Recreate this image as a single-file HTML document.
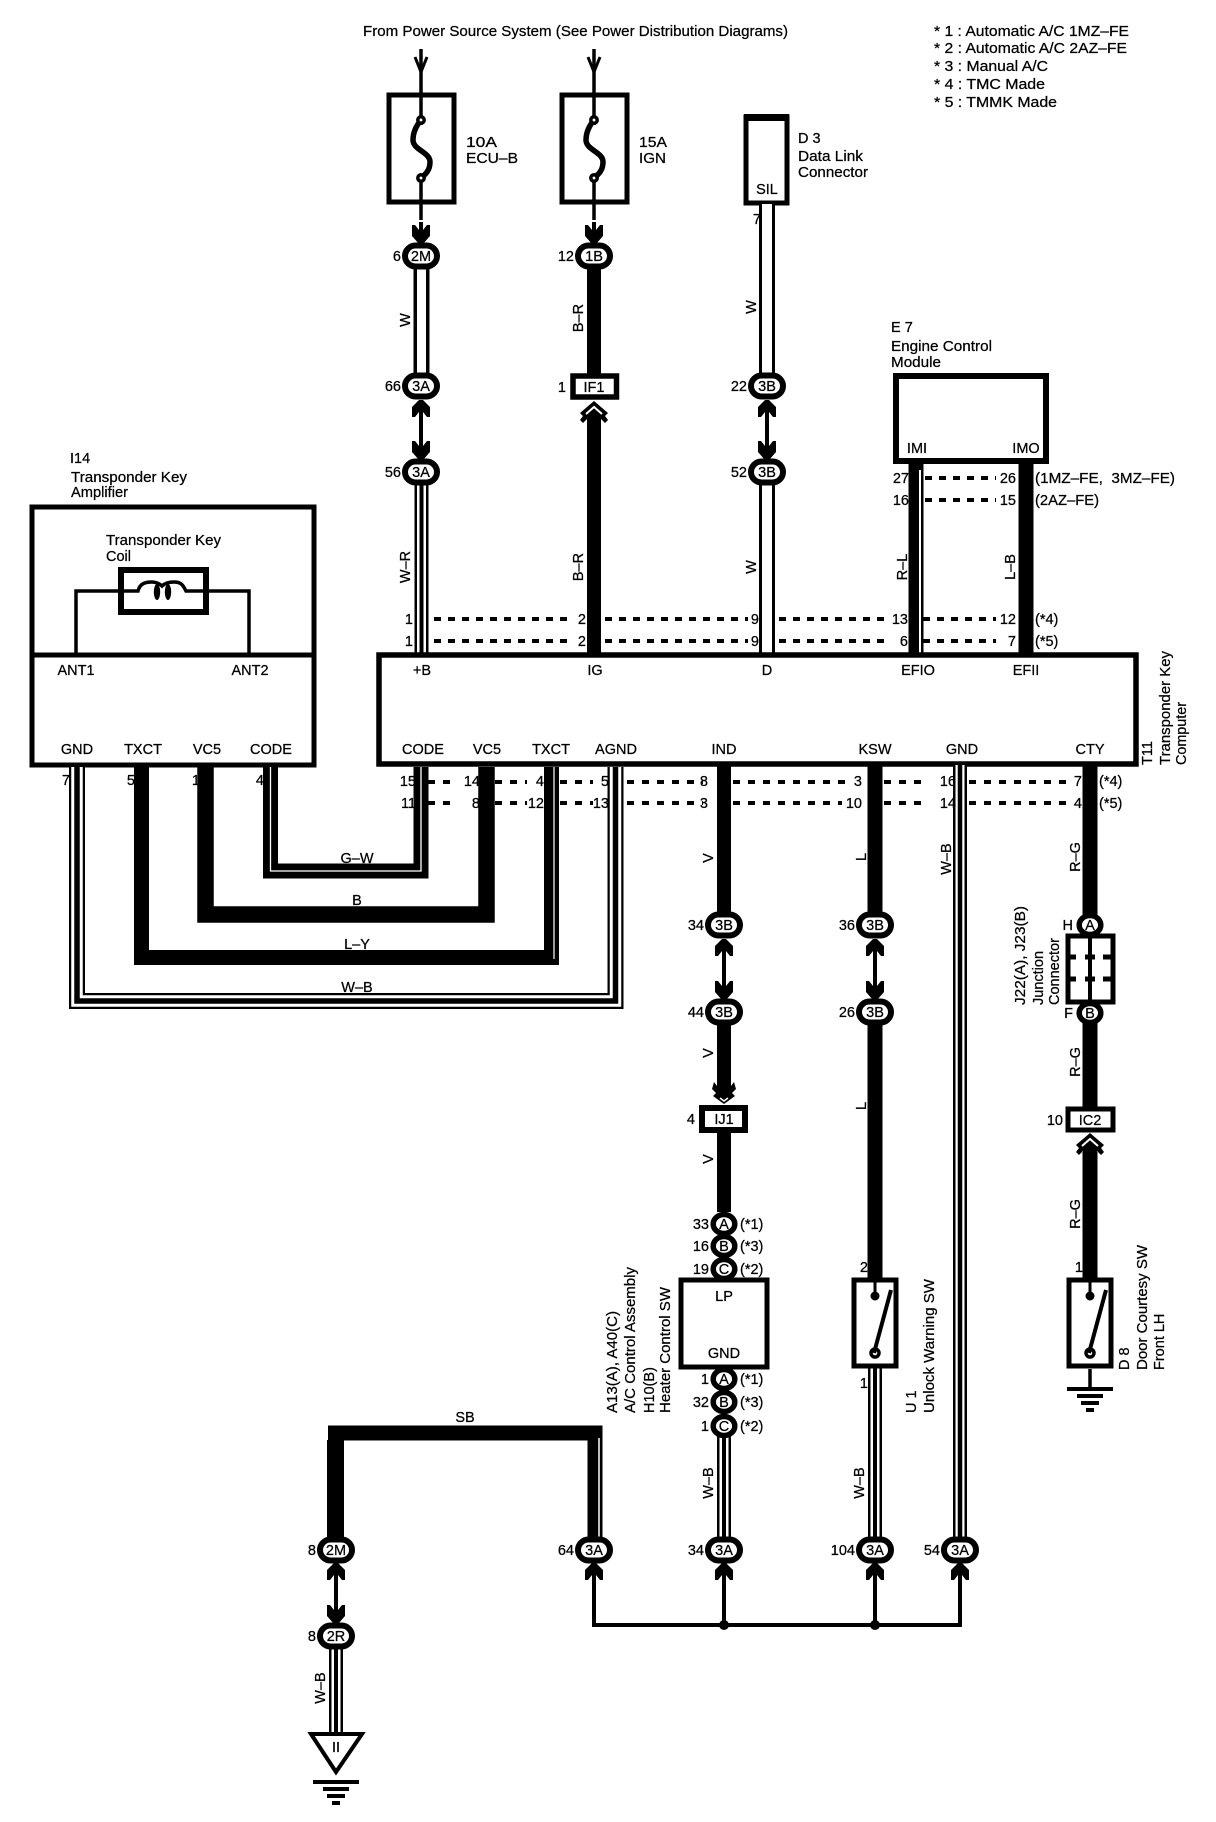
<!DOCTYPE html>
<html><head><meta charset="utf-8"><style>
html,body{margin:0;padding:0;background:#fff}
svg{display:block}
text{font:14.5px "Liberation Sans",sans-serif;fill:#000;stroke:#000;stroke-width:.25px}
.m{text-anchor:middle}.e{text-anchor:end}
.w{fill:none;stroke:#000}
</style></head><body>
<svg width="1216" height="1822" viewBox="0 0 1216 1822" xmlns="http://www.w3.org/2000/svg">
<defs>
<path id="ad" d="M-2 0H2L9-8V-19H6L2-14V-22H-2V-14L-6-19H-9V-8Z"/>
<path id="au" d="M-2 0H2L9 7V17H6L2 12V20H-2V12L-6 17H-9V7Z"/>
<rect id="ov" x="-16" y="-10.5" width="32" height="21" rx="10.5" fill="#fff" stroke="#000" stroke-width="6"/>
<ellipse id="ci" rx="10.8" ry="9.5" fill="#fff" stroke="#000" stroke-width="5.5"/>
<g id="big"><path d="M0 0L14 12 11 15 14 19 11 22 7 18V24H-7V18L-11 22-14 19-11 15-14 12Z"/><path d="M-8 13L0 6 8 13" fill="none" stroke="#fff" stroke-width="2"/></g>
<g id="gnd"><rect x="-23" y="0" width="46" height="4"/><rect x="-13" y="7" width="26" height="4"/><rect x="-9" y="14" width="18" height="4"/><rect x="-4" y="21" width="8" height="4"/></g>
<g id="fuse"><rect x="-32" y="0" width="65" height="107" fill="#fff" stroke="#000" stroke-width="5"/><path d="M0-46V30M0 82V125" stroke="#000" stroke-width="3.5"/><path d="M0 25C-5 31-8 37-8 45-8 55 9 57 9 67 9 75 5 79 0 83" fill="none" stroke="#000" stroke-width="5.5"/><circle cy="25" r="3.2" fill="#fff" stroke="#000" stroke-width="3.5"/><circle cy="83" r="3.2" fill="#fff" stroke="#000" stroke-width="3.5"/></g>
<g id="sw"><rect x="-21" y="2" width="42" height="86" fill="#fff" stroke="#000" stroke-width="5"/><path d="M0 0V18" stroke="#000" stroke-width="3"/><circle cy="18" r="4" stroke="#000"/><circle cy="75" r="4" fill="#fff" stroke="#000" stroke-width="3.5"/><path d="M16 12L-1 75" stroke="#000" stroke-width="4"/></g>
</defs>

<!-- top labels -->
<text x="363" y="36" textLength="425" lengthAdjust="spacingAndGlyphs">From Power Source System (See Power Distribution Diagrams)</text>
<text x="934" y="36" textLength="195" lengthAdjust="spacingAndGlyphs">* 1 : Automatic A/C 1MZ–FE</text>
<text x="934" y="53" textLength="193" lengthAdjust="spacingAndGlyphs">* 2 : Automatic A/C 2AZ–FE</text>
<text x="934" y="71" textLength="114" lengthAdjust="spacingAndGlyphs">* 3 : Manual A/C</text>
<text x="934" y="89" textLength="111" lengthAdjust="spacingAndGlyphs">* 4 : TMC Made</text>
<text x="934" y="107" textLength="123" lengthAdjust="spacingAndGlyphs">* 5 : TMMK Made</text>

<!-- top arrows and fuses -->
<g stroke="#000" fill="none"><path d="M421 49V80M594 49V80" stroke-width="3"/><path d="M415 57L421 72 427 57M588 57L594 72 600 57" stroke-width="3"/></g>
<use href="#fuse" x="421" y="95"/><use href="#fuse" x="594" y="95"/>
<text x="466" y="147" textLength="31" lengthAdjust="spacingAndGlyphs">10A</text><text x="466" y="163" textLength="52" lengthAdjust="spacingAndGlyphs">ECU–B</text>
<text x="639" y="147" textLength="28" lengthAdjust="spacingAndGlyphs">15A</text><text x="639" y="163" textLength="27" lengthAdjust="spacingAndGlyphs">IGN</text>
<use href="#ad" x="421" y="244"/><use href="#ad" x="594" y="244"/>

<!-- data link connector -->
<rect x="746" y="117" width="41" height="86" fill="#fff" stroke="#000" stroke-width="5"/><rect x="744" y="114" width="45" height="7"/>
<text x="767" y="194" class="m">SIL</text>
<text x="798" y="143">D 3</text><text x="798" y="161" textLength="65" lengthAdjust="spacingAndGlyphs">Data Link</text><text x="798" y="177" textLength="70" lengthAdjust="spacingAndGlyphs">Connector</text>

<!-- wire column 1 -->
<g class="w">
<path d="M421.5 268V375" stroke-width="16"/><path d="M421.5 268V375" stroke="#fff" stroke-width="9"/>
<path d="M421.5 484V655" stroke-width="14"/><path d="M421.5 484V655" stroke="#fff" stroke-width="9"/><path d="M421.5 484V655" stroke-width="4"/>
<path d="M594 268V375" stroke-width="14"/><path d="M594 420V655" stroke-width="14"/>
<path d="M767 204V375M767 484V655" stroke-width="16"/><path d="M767 204V375M767 484V655" stroke="#fff" stroke-width="10"/>
<path d="M421 402V455M767 402V455" stroke-width="4"/>
<path d="M916 462V655" stroke-width="15"/><path d="M920 462V655" stroke="#fff" stroke-width="2"/>
<path d="M1026 462V655" stroke-width="15"/>
</g>
<use href="#ov" x="421" y="256"/><use href="#ov" x="594" y="256"/>
<use href="#ov" x="421" y="386"/><use href="#ov" x="767" y="386"/>
<use href="#au" x="421" y="400"/><use href="#au" x="767" y="400"/>
<use href="#ad" x="421" y="460"/><use href="#ad" x="767" y="460"/>
<use href="#ov" x="421" y="472"/><use href="#ov" x="767" y="472"/>
<text x="421" y="261" class="m">2M</text><text x="594" y="261" class="m">1B</text>
<text x="421" y="391" class="m">3A</text><text x="767" y="391" class="m">3B</text>
<text x="421" y="477" class="m">3A</text><text x="767" y="477" class="m">3B</text>
<g class="e"><text x="401" y="261">6</text><text x="574" y="261">12</text><text x="401" y="391">66</text><text x="401" y="477">56</text><text x="747" y="391">22</text><text x="747" y="477">52</text><text x="761" y="224">7</text></g>
<rect x="573" y="376" width="43.5" height="21" fill="#fff" stroke="#000" stroke-width="5.5"/><text x="594" y="392" class="m">IF1</text><text x="566" y="392" class="e">1</text>
<use href="#big" x="594" y="401"/>

<!-- E7 -->
<text x="891" y="332">E 7</text><text x="891" y="351" textLength="101" lengthAdjust="spacingAndGlyphs">Engine Control</text><text x="891" y="367" textLength="50" lengthAdjust="spacingAndGlyphs">Module</text>
<rect x="896" y="376" width="150" height="85" fill="#fff" stroke="#000" stroke-width="6"/>
<text x="917" y="453" class="m">IMI</text><text x="1026" y="453" class="m">IMO</text>
<path d="M916 464V470M1026 464V470" stroke="#000" stroke-width="15"/>

<!-- dashed upper -->
<g class="w" stroke-width="4" stroke-dasharray="7 7">
<path d="M925 478H996M925 500H996"/>
<path d="M434 619H574M605 619H748M779 619H888M923 619H996"/>
<path d="M434 641H574M605 641H748M779 641H888M923 641H996"/>
</g>
<g class="e">
<text x="909" y="483">27</text><text x="1016" y="483">26</text><text x="909" y="505">16</text><text x="1016" y="505">15</text>
<text x="413" y="624">1</text><text x="586" y="624">2</text><text x="759" y="624">9</text><text x="908" y="624">13</text><text x="1016" y="624">12</text>
<text x="413" y="646">1</text><text x="586" y="646">2</text><text x="759" y="646">9</text><text x="908" y="646">6</text><text x="1016" y="646">7</text>
</g>
<text x="1035" y="483" textLength="140" lengthAdjust="spacingAndGlyphs">(1MZ–FE,&#160; 3MZ–FE)</text>
<text x="1035" y="505" textLength="64" lengthAdjust="spacingAndGlyphs">(2AZ–FE)</text>
<text x="1035" y="624">(*4)</text><text x="1035" y="646">(*5)</text>

<!-- I14 box -->
<text x="70" y="463">I14</text><text x="71" y="482" textLength="116" lengthAdjust="spacingAndGlyphs">Transponder Key</text><text x="71" y="497" textLength="57" lengthAdjust="spacingAndGlyphs">Amplifier</text>
<rect x="32" y="507" width="282" height="258" fill="#fff" stroke="#000" stroke-width="5"/>
<path d="M32 655H314" stroke="#000" stroke-width="5"/>
<text x="106" y="545" textLength="115" lengthAdjust="spacingAndGlyphs">Transponder Key</text><text x="106" y="561">Coil</text>
<path d="M76 655V591H249V655" fill="none" stroke="#000" stroke-width="3.5"/>
<rect x="121" y="570" width="85" height="42" fill="#fff" stroke="#000" stroke-width="6"/>
<path d="M119 591H138C140 583 146 582 152 582 156 582 160 584 162 586 165 583 170 582 174 582 181 582 183 585 186 591H207" fill="none" stroke="#000" stroke-width="3.5"/>
<ellipse cx="157" cy="592" rx="3.2" ry="8"/><ellipse cx="168" cy="592" rx="3.2" ry="8"/>
<g class="m"><text x="76" y="675">ANT1</text><text x="250" y="675">ANT2</text><text x="77" y="754">GND</text><text x="143" y="754">TXCT</text><text x="207" y="754">VC5</text><text x="271" y="754">CODE</text></g>

<!-- T11 box -->
<rect x="379" y="655" width="757" height="109" fill="#fff" stroke="#000" stroke-width="5.5"/>
<g class="m">
<text x="422" y="675">+B</text><text x="595" y="675">IG</text><text x="767" y="675">D</text><text x="918" y="675">EFIO</text><text x="1026" y="675">EFII</text>
<text x="423" y="754">CODE</text><text x="487" y="754">VC5</text><text x="551" y="754">TXCT</text><text x="616" y="754">AGND</text><text x="724" y="754">IND</text><text x="875" y="754">KSW</text><text x="962" y="754">GND</text><text x="1090" y="754">CTY</text>
</g>
<g>
<text x="1152" y="765" transform="rotate(-90 1152 765)">T11</text>
<text x="1170" y="765" transform="rotate(-90 1170 765)" textLength="114" lengthAdjust="spacingAndGlyphs">Transponder Key</text>
<text x="1186" y="765" transform="rotate(-90 1186 765)" textLength="63" lengthAdjust="spacingAndGlyphs">Computer</text>
</g>

<!-- loop wires -->
<g class="w">
<path d="M77 767V1001H615.5V767" stroke-width="16"/><path d="M77 767V1001H615.5V767" stroke="#fff" stroke-width="11.5"/><path d="M77 767V1001H615.5V767" stroke-width="5.5"/>
<path d="M141.5 767V957.5H551.5V767" stroke-width="15"/><path d="M554 767V959" stroke="#fff" stroke-width="1.2"/>
<path d="M205.5 767V914.5H486.5V767" stroke-width="16.5"/>
<path d="M270.5 767V871H421V767" stroke-width="15"/><path d="M270.5 767V871H421V767" stroke="#fff" stroke-width="1.3"/>
</g>
<g class="m"><text x="357" y="863">G–W</text><text x="357" y="905">B</text><text x="357" y="949">L–Y</text><text x="357" y="992">W–B</text></g>
<g class="e"><text x="70" y="785">7</text><text x="135" y="785">5</text><text x="200" y="785">1</text><text x="264" y="785">4</text></g>

<!-- dashed lower -->
<g class="w" stroke-width="4" stroke-dasharray="7 8">
<path d="M428 782H455M495 782H527M560 782H593M627 782H703M733 782H853M884 782H927M969 782H1070"/>
<path d="M428 803H455M495 803H527M560 803H593M627 803H703M733 803H842M884 803H927M969 803H1070"/>
</g>

<!-- lower wires -->
<g class="w">
<path d="M724 765V912M724 1025V1090M724 1132V1212" stroke-width="14"/>
<path d="M875 765V912M875 1025V1280" stroke-width="15"/>
<path d="M1090 765V915M1090 1022V1108M1090 1152V1280" stroke-width="15"/>
<path d="M724 941V985M875 941V985" stroke-width="4"/>
<path d="M960 765V1538" stroke-width="14"/><path d="M960 765V1538" stroke="#fff" stroke-width="9"/><path d="M960 765V1538" stroke-width="4.5"/>
</g>
<g class="e">
<text x="708" y="786">8</text><text x="862" y="786">3</text><text x="956" y="786">16</text><text x="1082" y="786">7</text>
<text x="416" y="786">15</text><text x="480" y="786">14</text><text x="544" y="786">4</text><text x="609" y="786">5</text>
<text x="708" y="808">3</text><text x="862" y="808">10</text><text x="956" y="808">14</text><text x="1082" y="808">4</text>
<text x="416" y="808">11</text><text x="480" y="808">8</text><text x="544" y="808">12</text><text x="609" y="808">13</text>
</g>
<text x="1099" y="786">(*4)</text><text x="1099" y="808">(*5)</text>

<use href="#ov" x="724" y="925"/><use href="#ov" x="875" y="925"/>
<use href="#ov" x="724" y="1012"/><use href="#ov" x="875" y="1012"/>
<use href="#au" x="724" y="939"/><use href="#au" x="875" y="939"/>
<use href="#ad" x="724" y="1000"/><use href="#ad" x="875" y="1000"/>
<text x="724" y="930" class="m">3B</text><text x="875" y="930" class="m">3B</text><text x="724" y="1017" class="m">3B</text><text x="875" y="1017" class="m">3B</text>
<g class="e"><text x="704" y="930">34</text><text x="855" y="930">36</text><text x="704" y="1017">44</text><text x="855" y="1017">26</text></g>

<!-- IJ1 -->
<path transform="translate(724 1105)" d="M0-1L-11-9-8-12-12-16-10-23-7-19V-22H7V-19L10-23 12-16 8-12 11-9Z"/>
<path d="M720 1098L724 1101 728 1098" fill="none" stroke="#fff" stroke-width="1.5"/>
<rect x="702" y="1108" width="43" height="22" fill="#fff" stroke="#000" stroke-width="6"/>
<text x="724" y="1124" class="m">IJ1</text><text x="695" y="1124" class="e">4</text>

<!-- junction -->
<use href="#ci" x="1090" y="925"/>
<rect x="1068" y="936" width="45" height="66" fill="#fff" stroke="#000" stroke-width="5"/>
<path d="M1090 934V1003" stroke="#000" stroke-width="4"/>
<path d="M1069 957H1076M1085 957H1095M1103 957H1111M1069 979H1076M1085 979H1095M1103 979H1111" stroke="#000" stroke-width="5"/>
<use href="#ci" x="1090" y="1013"/>
<text x="1090" y="930" class="m">A</text><text x="1090" y="1018" class="m">B</text>
<text x="1073" y="930" class="e">H</text><text x="1073" y="1018" class="e">F</text>
<rect x="1068" y="1109" width="45" height="21" fill="#fff" stroke="#000" stroke-width="5"/>
<text x="1090" y="1125" class="m">IC2</text><text x="1063" y="1125" class="e">10</text>
<use href="#big" x="1090" y="1133"/>

<!-- circles A B C -->
<use href="#ci" x="724" y="1224"/><use href="#ci" x="724" y="1246"/><use href="#ci" x="724" y="1269"/>
<text x="724" y="1229" class="m">A</text><text x="724" y="1251" class="m">B</text><text x="724" y="1274" class="m">C</text>
<g class="e"><text x="709" y="1229">33</text><text x="709" y="1251">16</text><text x="709" y="1274">19</text><text x="709" y="1384">1</text><text x="709" y="1407">32</text><text x="709" y="1431">1</text></g>
<text x="740" y="1229">(*1)</text><text x="740" y="1251">(*3)</text><text x="740" y="1274">(*2)</text>
<text x="740" y="1384">(*1)</text><text x="740" y="1407">(*3)</text><text x="740" y="1431">(*2)</text>
<rect x="681" y="1280" width="86" height="87" fill="#fff" stroke="#000" stroke-width="5"/>
<text x="724" y="1301" class="m">LP</text><text x="724" y="1358" class="m">GND</text>
<g class="w">
<path d="M724 1432V1540M875 1368V1540" stroke-width="14"/><path d="M724 1432V1540M875 1368V1540" stroke="#fff" stroke-width="9"/><path d="M724 1432V1540M875 1368V1540" stroke-width="4"/>
</g>
<use href="#ci" x="724" y="1379"/><use href="#ci" x="724" y="1402"/><use href="#ci" x="724" y="1426"/>
<text x="724" y="1384" class="m">A</text><text x="724" y="1407" class="m">B</text><text x="724" y="1431" class="m">C</text>

<!-- switches -->
<use href="#sw" x="875" y="1278"/><use href="#sw" x="1090" y="1278"/>
<text x="868" y="1272" class="e">2</text><text x="868" y="1388" class="e">1</text><text x="1083" y="1272" class="e">1</text>
<path d="M1090 1369V1390" stroke="#000" stroke-width="3.5"/>
<use href="#gnd" x="1090" y="1387"/>

<!-- SB wire -->
<g class="w"><path d="M335.5 1540V1433H595V1540" stroke-width="15"/><path d="M599 1438V1540" stroke="#fff" stroke-width="1.5"/></g>
<rect x="327" y="1440" width="17" height="100"/>
<text x="465" y="1422" class="m">SB</text>

<!-- bottom connectors -->
<use href="#ov" x="336" y="1550"/><use href="#ov" x="594" y="1550"/><use href="#ov" x="724" y="1550"/><use href="#ov" x="875" y="1550"/><use href="#ov" x="960" y="1550"/>
<g fill="none" stroke="#000"><path d="M594 1566V1625H960V1566M724 1566V1625M875 1566V1625" stroke-width="4"/><path d="M336 1566V1610" stroke-width="4"/></g>
<circle cx="724" cy="1625" r="5"/><circle cx="875" cy="1625" r="5"/>
<use href="#au" x="336" y="1563"/><use href="#au" x="594" y="1563"/><use href="#au" x="724" y="1563"/><use href="#au" x="875" y="1563"/><use href="#au" x="960" y="1563"/>
<use href="#ad" x="336" y="1624"/>
<g class="w"><path d="M336 1648V1734" stroke-width="14"/><path d="M336 1648V1734" stroke="#fff" stroke-width="9"/><path d="M336 1648V1734" stroke-width="4"/></g>
<use href="#ov" x="336" y="1636"/>
<text x="336" y="1555" class="m">2M</text><text x="594" y="1555" class="m">3A</text><text x="724" y="1555" class="m">3A</text><text x="875" y="1555" class="m">3A</text><text x="960" y="1555" class="m">3A</text><text x="336" y="1641" class="m">2R</text>
<g class="e"><text x="316" y="1555">8</text><text x="574" y="1555">64</text><text x="704" y="1555">34</text><text x="855" y="1555">104</text><text x="940" y="1555">54</text><text x="316" y="1641">8</text></g>
<path d="M311 1734H362L336 1772Z" fill="#fff" stroke="#000" stroke-width="4"/>
<text x="336" y="1752" class="m">II</text>
<use href="#gnd" x="336" y="1780"/>

<!-- rotated wire labels -->
<g class="m">
<text transform="translate(410 320) rotate(-90)">W</text>
<text transform="translate(583 318) rotate(-90)">B–R</text>
<text transform="translate(756 307) rotate(-90)">W</text>
<text transform="translate(410 567) rotate(-90)">W–R</text>
<text transform="translate(583 567) rotate(-90)">B–R</text>
<text transform="translate(756 567) rotate(-90)">W</text>
<text transform="translate(907 567) rotate(-90)">R–L</text>
<text transform="translate(1015 567) rotate(-90)">L–B</text>
<text transform="translate(713 858) rotate(-90)">V</text>
<text transform="translate(713 1053) rotate(-90)">V</text>
<text transform="translate(713 1159) rotate(-90)">V</text>
<text transform="translate(866 857) rotate(-90)">L</text>
<text transform="translate(866 1106) rotate(-90)">L</text>
<text transform="translate(951 859) rotate(-90)">W–B</text>
<text transform="translate(1080 857) rotate(-90)">R–G</text>
<text transform="translate(1080 1062) rotate(-90)">R–G</text>
<text transform="translate(1080 1214) rotate(-90)">R–G</text>
<text transform="translate(713 1483) rotate(-90)">W–B</text>
<text transform="translate(864 1483) rotate(-90)">W–B</text>
<text transform="translate(325 1688) rotate(-90)">W–B</text>
</g>

<!-- rotated captions -->
<text transform="translate(1025 1005) rotate(-90)" textLength="99" lengthAdjust="spacingAndGlyphs">J22(A), J23(B)</text>
<text transform="translate(1043 1005) rotate(-90)">Junction</text>
<text transform="translate(1059 1005) rotate(-90)">Connector</text>
<text transform="translate(617 1413) rotate(-90)" textLength="102" lengthAdjust="spacingAndGlyphs">A13(A), A40(C)</text>
<text transform="translate(635 1413) rotate(-90)" textLength="146" lengthAdjust="spacingAndGlyphs">A/C Control Assembly</text>
<text transform="translate(654 1413) rotate(-90)">H10(B)</text>
<text transform="translate(670 1413) rotate(-90)" textLength="126" lengthAdjust="spacingAndGlyphs">Heater Control SW</text>
<text transform="translate(916 1413) rotate(-90)">U 1</text>
<text transform="translate(934 1413) rotate(-90)" textLength="134" lengthAdjust="spacingAndGlyphs">Unlock Warning SW</text>
<text transform="translate(1129 1370) rotate(-90)">D 8</text>
<text transform="translate(1147 1370) rotate(-90)" textLength="125" lengthAdjust="spacingAndGlyphs">Door Courtesy SW</text>
<text transform="translate(1164 1370) rotate(-90)">Front LH</text>
</svg>
</body></html>
